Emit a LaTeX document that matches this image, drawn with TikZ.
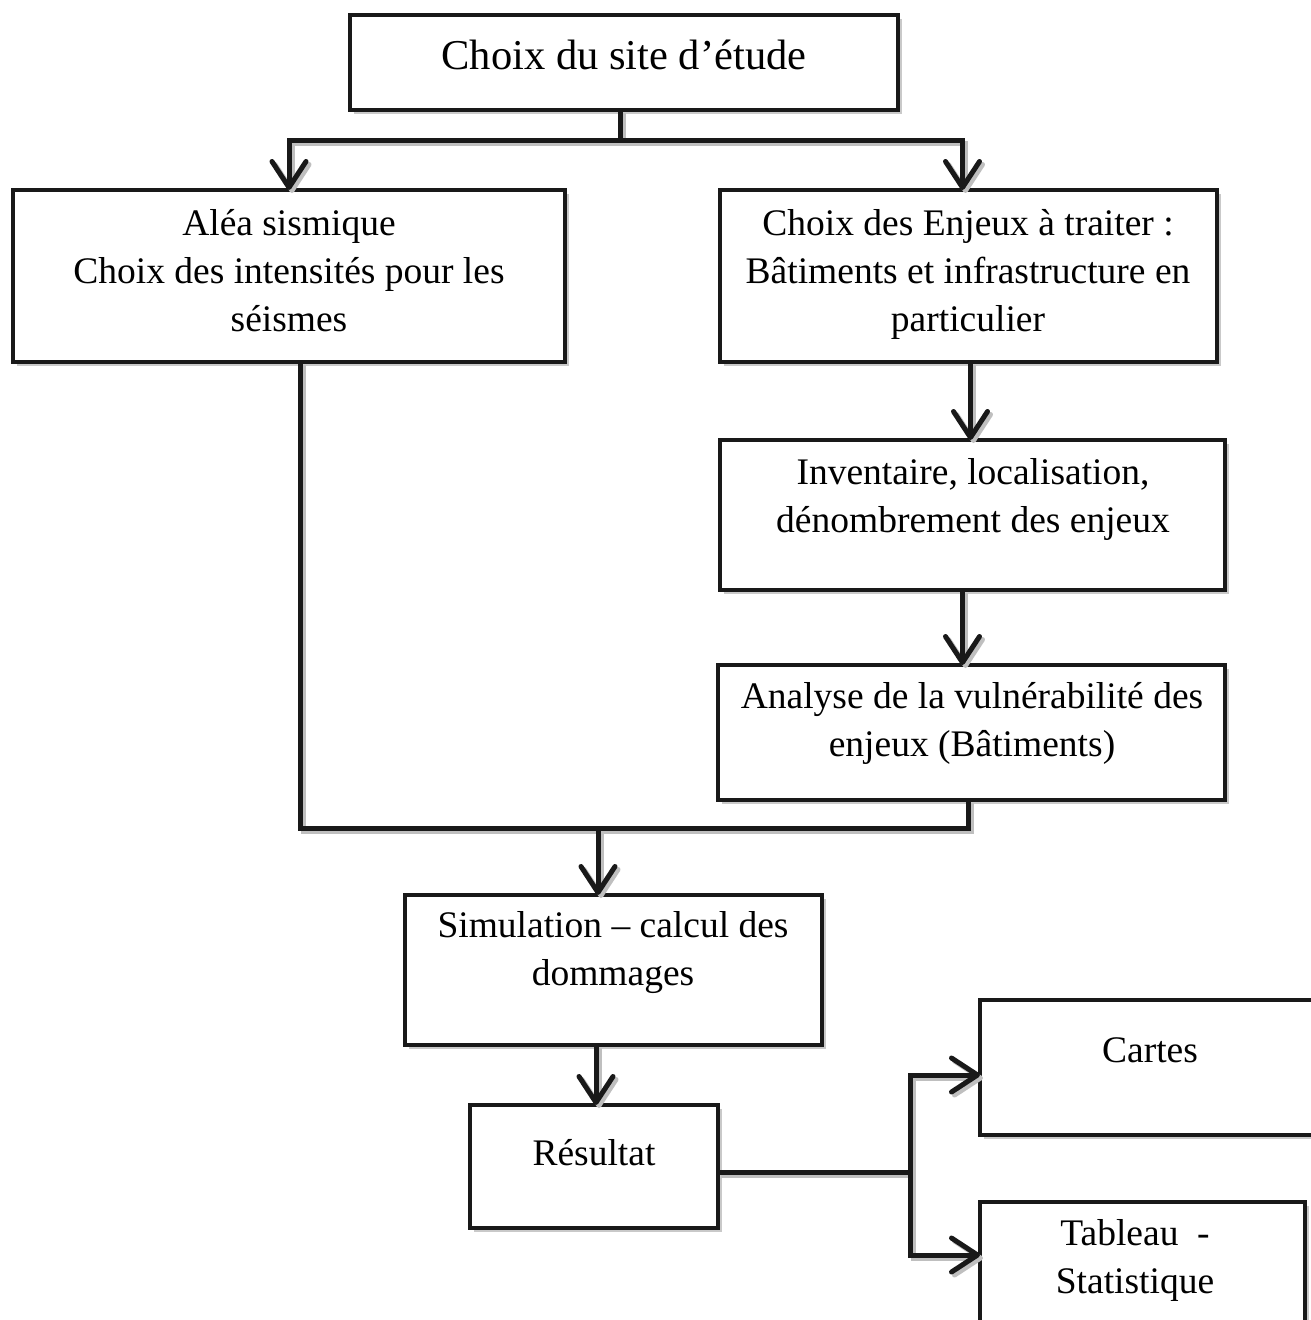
\documentclass[tikz,border=0pt]{standalone}
\usepackage{fontspec}
\setmainfont{Liberation Serif}
\usetikzlibrary{arrows.meta,shadows,calc}
\begin{document}
\begin{tikzpicture}[x=1pt,y=-1pt,
  box/.style={draw=black!90, line width=4pt, fill=white, inner sep=0pt, outer sep=0pt,
    drop shadow={shadow xshift=4pt, shadow yshift=-4pt, opacity=0.35, fill=black!60}},
  txt/.style={align=center, font=\fontsize{37.5}{48}\selectfont, inner sep=0pt},
  conn/.style={line width=5pt, draw=black!90,
    preaction={draw=black!25, line width=5pt, transform canvas={shift={(3pt,-3pt)}}}},
  arr/.style={conn, -{Straight Barb[length=26pt,width=34pt,line cap=round,line join=round]}},
]
\clip (0,0) rectangle (1311,1320);
\fill[white] (0,0) rectangle (1311,1320);

% boxes
\node[box, minimum width=548pt, minimum height=95pt] (top) at (624,62.5) {};
\node[txt, font=\fontsize{42.5}{48}\selectfont] (ttop) at (624,55) {Choix du site d’étude};

\node[box, minimum width=552pt, minimum height=172pt] (alea) at (289,276) {};
\node[txt] (talea) at (289,271) {Aléa sismique\\Choix des intensités pour les\\séismes};

\node[box, minimum width=497pt, minimum height=172pt] (enj) at (968.5,276) {};
\node[txt] (tenj) at (968,274) {Choix des Enjeux à traiter :\\Bâtiments et infrastructure en\\particulier};

\node[box, minimum width=505pt, minimum height=150pt] (inv) at (972.5,515) {};
\node[txt] (tinv) at (973,499) {Inventaire, localisation,\\dénombrement des enjeux};

\node[box, minimum width=507pt, minimum height=135pt] (ana) at (971.5,732.5) {};
\node[txt] (tana) at (972,723) {Analyse de la vulnérabilité des\\enjeux (Bâtiments)};

\node[box, minimum width=417pt, minimum height=150pt] (sim) at (613.5,970) {};
\node[txt] (tsim) at (613,953) {Simulation – calcul des\\dommages};

\node[box, minimum width=248pt, minimum height=123pt] (res) at (594,1166.5) {};
\node[txt] (tres) at (594,1153) {Résultat};

\node[box, minimum width=350pt, minimum height=135pt] (cart) at (1155,1067.5) {};
\node[txt] (tcart) at (1150,1050) {Cartes};

\node[box, minimum width=325pt, minimum height=138pt] (tab) at (1142.5,1271) {};
\node[txt] (ttab) at (1135,1260) {Tableau\ \ -\\Statistique};

% connectors
\coordinate (j1) at (620,140);
\draw[conn] (top.south -| j1) -- (j1);
\draw[arr] (j1) -| (alea.north);
\draw[arr] (j1) -| ([xshift=-6pt]enj.north);

\draw[arr] ([xshift=2pt]enj.south) -- ([xshift=2pt]enj.south |- inv.north);
\draw[arr] ([xshift=-10pt]inv.south) -- ([xshift=-10pt]inv.south |- ana.north);

\coordinate (j2) at (598,828);
\draw[conn] ([xshift=11pt]alea.south) |- (j2) -| ([xshift=-3pt]ana.south);
\draw[arr] (j2) -- (j2 |- sim.north);

\draw[arr] ([xshift=2pt]res.north |- sim.south) -- ([xshift=2pt]res.north);

\coordinate (j3) at (910,1172);
\coordinate (j4) at (910,1075);
\coordinate (j5) at (910,1255);
\draw[conn] (res.east |- j3) -- (j3);
\draw[arr] (j3) -- (j4) -- (j4 -| cart.west);
\draw[arr] (j3) -- (j5) -- (j5 -| tab.west);
\end{tikzpicture}
\end{document}
